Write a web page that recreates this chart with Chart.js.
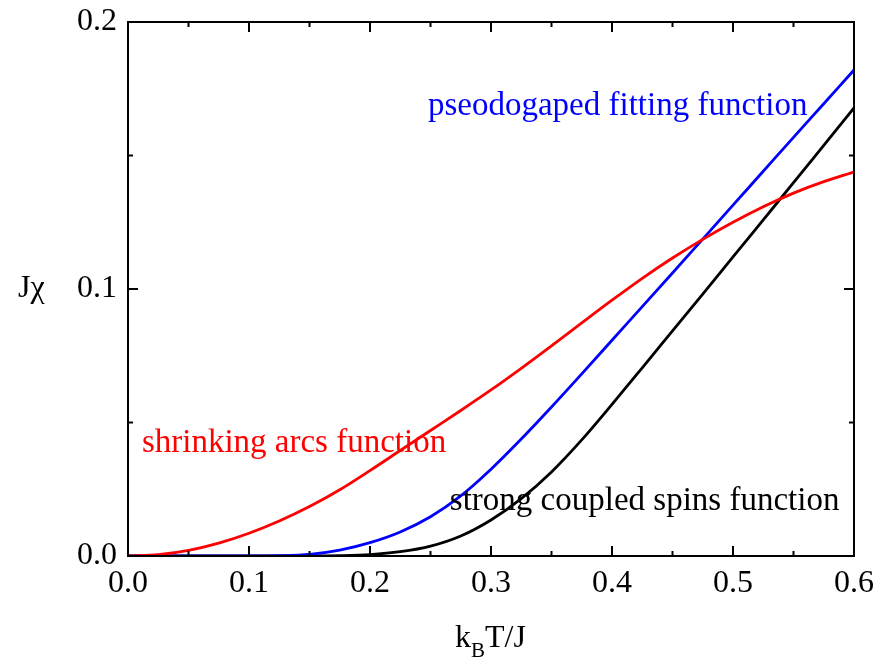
<!DOCTYPE html>
<html>
<head>
<meta charset="utf-8">
<script src="https://cdn.jsdelivr.net/npm/chart.js@4"></script>
<style>
  html, body { margin: 0; padding: 0; background: #fff; }
  #wrap { width: 884px; height: 660px; }
</style>
</head>
<body>
<div id="wrap"><canvas id="chi"></canvas></div>
<script>
// values (kB T / J  vs  J chi)
const temps = [0, 0.025, 0.05, 0.075, 0.1, 0.125, 0.15, 0.175, 0.2, 0.225, 0.25, 0.275, 0.3, 0.325, 0.35, 0.375, 0.4, 0.425, 0.45, 0.475, 0.5, 0.525, 0.55, 0.575, 0.6];
const shrinkingArcs = [0, 0.0005, 0.0021, 0.0048, 0.0085, 0.0131, 0.0185, 0.0248, 0.032, 0.0395, 0.047, 0.0545, 0.0622, 0.0703, 0.0787, 0.0873, 0.0958, 0.104, 0.1116, 0.1186, 0.125, 0.1308, 0.1359, 0.1402, 0.1438];
const pseudogap = [0, 0, 0, 0, 0, 0.0001, 0.0006, 0.0022, 0.005, 0.009, 0.0147, 0.0225, 0.0325, 0.0438, 0.0558, 0.0682, 0.0808, 0.0934, 0.106, 0.1187, 0.1314, 0.1441, 0.1568, 0.1694, 0.182];
const strongSpins = [0, 0, 0, 0, 0, 0, 0, 0.0001, 0.0005, 0.0016, 0.0037, 0.0075, 0.0135, 0.0215, 0.0315, 0.0435, 0.0568, 0.0705, 0.0843, 0.0981, 0.112, 0.1259, 0.1398, 0.1538, 0.1678];
const xTicks = [0, 0.1, 0.2, 0.3, 0.4, 0.5, 0.6];
const yTicks = [0, 0.1, 0.2];

const serif = "'Liberation Serif', 'Times New Roman', serif";

function pts(ys) {
  return temps.map((t, i) => ({ x: t, y: ys[i] }));
}

// frame, inward ticks on all four sides, curve labels and axis titles
const decor = {
  id: "decor",
  afterDraw(chart) {
    const c = chart.ctx;
    const a = chart.chartArea;
    const sx = chart.scales.x, sy = chart.scales.y;
    c.save();
    c.strokeStyle = "#000";
    c.lineWidth = 2;
    c.strokeRect(a.left, a.top, a.right - a.left, a.bottom - a.top);

    c.beginPath();
    for (let v = 0; v <= 0.6001; v += 0.05) {
      const px = sx.getPixelForValue(v);
      const len = Math.abs(v * 10 - Math.round(v * 10)) < 1e-6 ? 10 : 5;
      c.moveTo(px, a.bottom); c.lineTo(px, a.bottom - len);
      c.moveTo(px, a.top); c.lineTo(px, a.top + len);
    }
    for (let v = 0; v <= 0.2001; v += 0.05) {
      const py = sy.getPixelForValue(v);
      const len = Math.abs(v * 10 - Math.round(v * 10)) < 1e-6 ? 10 : 5;
      c.moveTo(a.left, py); c.lineTo(a.left + len, py);
      c.moveTo(a.right, py); c.lineTo(a.right - len, py);
    }
    c.stroke();

    c.font = "33px " + serif;
    c.textBaseline = "alphabetic";
    c.textAlign = "left";
    c.fillStyle = "#0000ff";
    c.fillText("pseodogaped fitting function", sx.getPixelForValue(0.2479), sy.getPixelForValue(0.1652));
    c.fillStyle = "#ff0000";
    c.fillText("shrinking arcs function", sx.getPixelForValue(0.0115), sy.getPixelForValue(0.039));
    c.fillStyle = "#000";
    c.fillText("strong coupled spins function", sx.getPixelForValue(0.266), sy.getPixelForValue(0.0172));

    // axis titles
    c.font = "32px " + serif;
    c.fillStyle = "#000";
    c.fillText("J\u03c7", 18, 297);
    let x0 = 455;
    const base = 647;
    c.fillText("k", x0, base);
    x0 += c.measureText("k").width;
    c.font = "21px " + serif;
    c.fillText("B", x0, base + 10);
    x0 += c.measureText("B").width;
    c.font = "32px " + serif;
    c.fillText("T/J", x0, base);
    c.restore();
  }
};

new Chart(document.getElementById("chi"), {
  type: "line",
  data: {
    datasets: [
      { label: "shrinking arcs function", data: pts(shrinkingArcs), borderColor: "#ff0000" },
      { label: "pseodogaped fitting function", data: pts(pseudogap), borderColor: "#0000ff" },
      { label: "strong coupled spins function", data: pts(strongSpins), borderColor: "#000000" }
    ]
  },
  options: {
    responsive: true,
    maintainAspectRatio: false,
    animation: false,
    layout: { padding: { top: 22, right: 30, left: 0, bottom: 0 } },
    elements: {
      point: { radius: 0 },
      line: { borderWidth: 2.8, cubicInterpolationMode: "monotone", fill: false }
    },
    scales: {
      x: {
        type: "linear",
        min: 0,
        max: 0.6,
        afterBuildTicks: (s) => { s.ticks = xTicks.map(v => ({ value: v })); },
        afterFit: (s) => { s.height = 104; s.paddingLeft = 0; s.paddingRight = 0; },
        ticks: {
          color: "#000",
          font: { family: serif, size: 32 },
          padding: 8,
          maxRotation: 0,
          callback: (v) => v.toFixed(1)
        },
        grid: { display: false, drawTicks: false },
        border: { display: false }
      },
      y: {
        min: 0,
        max: 0.2,
        afterBuildTicks: (s) => { s.ticks = yTicks.map(v => ({ value: v })); },
        afterFit: (s) => { s.width = 128; s.paddingTop = 0; s.paddingBottom = 0; },
        ticks: {
          color: "#000",
          font: { family: serif, size: 32 },
          padding: 11,
          callback: (v) => v.toFixed(1)
        },
        grid: { display: false, drawTicks: false },
        border: { display: false }
      }
    },
    plugins: {
      legend: { display: false },
      tooltip: { enabled: false }
    }
  },
  plugins: [decor]
});
</script>
</body>
</html>
